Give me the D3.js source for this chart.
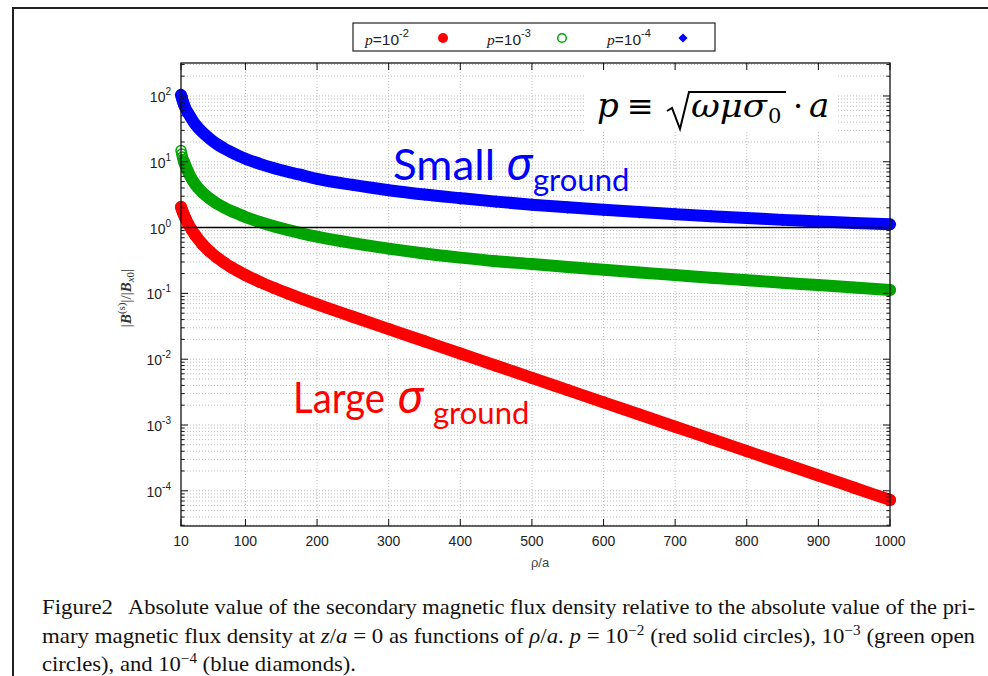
<!DOCTYPE html>
<html>
<head>
<meta charset="utf-8">
<script src="https://cdn.jsdelivr.net/npm/d3@7"></script>
<style>
  body { margin: 0; background: #fff; }
  svg { display: block; }
</style>
</head>
<body>
<svg id="fig" width="988" height="676"></svg>
<script>
// ρ/a sample positions shared by the three series
const rho = [10, 11, 12, 13, 14, 15, 17, 20, 25, 30, 40, 50, 60, 70, 80, 90, 100,
  120, 140, 160, 180, 200, 250, 300, 350, 400, 450, 500, 550, 600, 650, 700,
  750, 800, 850, 900, 950, 1000];

// |B(s)|/|Bx0| for p = 1e-2 (red solid circles)
const redValues = [2.06, 1.911, 1.781, 1.667, 1.565, 1.475, 1.323, 1.142, 0.923, 0.764,
  0.5594, 0.4347, 0.3524, 0.2938, 0.2502, 0.2167, 0.1897,
  0.1495, 0.1208, 0.0990, 0.0819, 0.0683,
  0.0441, 0.02867, 0.01871, 0.01221, 0.00796, 0.00520, 0.00339, 0.00221,
  0.001444, 0.000942, 0.000615, 0.000401, 0.000262, 0.000171, 0.0001115, 0.0000727];

// p = 1e-3 (green open circles)
const greenValues = [14.85, 13.14, 11.83, 10.84, 10.11, 9.42, 8.34, 7.00, 5.48, 4.52,
  3.42, 2.77, 2.32, 2.02, 1.79, 1.61, 1.45,
  1.216, 1.043, 0.913, 0.811, 0.727,
  0.579, 0.478, 0.404, 0.350, 0.3086, 0.280, 0.252, 0.2284,
  0.2078, 0.1897, 0.1732, 0.1587, 0.1454, 0.1337, 0.1225, 0.1126];

// p = 1e-4 (blue diamonds)
const blueValues = [104, 95, 87, 81, 75, 70, 62, 55, 44.5, 37,
  28, 22.5, 18.6, 16, 14, 12.4, 11.1,
  9.3, 8.0, 7.0, 6.2, 5.5,
  4.45, 3.7, 3.18, 2.8, 2.48, 2.23, 2.03, 1.86,
  1.72, 1.6, 1.49, 1.4, 1.31, 1.24, 1.17, 1.12];

const xTicks = [10, 100, 200, 300, 400, 500, 600, 700, 800, 900, 1000];
const yTickExponents = [-4, -3, -2, -1, 0, 1, 2];
const legendExponents = ["-2", "-3", "-4"];

const svg = d3.select("#fig");
const plot = { left: 181, right: 890, top: 63, bottom: 526 };

const x = d3.scaleLinear().domain([10, 1000]).range([plot.left, plot.right]);
const y = d3.scaleLog().domain([2.92e-5, 317]).range([plot.bottom, plot.top]);

const sans = "'Liberation Sans', Arial, sans-serif";
const serif = "'Liberation Serif', 'Times New Roman', serif";

// page frame
svg.append("path").attr("d", "M13,676V8H988")
  .attr("fill", "none").attr("stroke", "#222").attr("stroke-width", 2);

// grid: vertical at major x ticks, horizontal at every log tick
const gridG = svg.append("g").attr("stroke", "#bdbdbd").attr("stroke-width", 1)
  .attr("stroke-dasharray", "1,2");
xTicks.slice(1, -1).forEach(t => {
  gridG.append("line").attr("x1", x(t)).attr("x2", x(t))
    .attr("y1", plot.top).attr("y2", plot.bottom);
});
const [yMin, yMax] = y.domain();
const yLogTicks = [];
for (let e = -5; e <= 2; e++) {
  for (let m = 1; m <= 9; m++) {
    const v = m * Math.pow(10, e);
    if (v >= yMin && v <= yMax) yLogTicks.push({ v, major: m === 1 });
  }
}
yLogTicks.forEach(t => {
  gridG.append("line").attr("x1", plot.left).attr("x2", plot.right)
    .attr("y1", y(t.v)).attr("y2", y(t.v));
});

// white panel behind the definition of p
svg.append("rect").attr("x", 586).attr("y", 72).attr("width", 250).attr("height", 60)
  .attr("fill", "#fff");

// series
const series = [
  { name: "p2", values: redValues, color: "#ff0000", kind: "disc", bandFrom: 10 },
  { name: "p3", values: greenValues, color: "#00a400", kind: "ring", bandFrom: 14 },
  { name: "p4", values: blueValues, color: "#0000ff", kind: "diamond", bandFrom: 10 }
];

const line = d3.line().x(d => x(d.r)).y(d => y(d.v)).curve(d3.curveMonotoneX);
const square = d3.symbol().type(d3.symbolSquare);

series.forEach(s => {
  const pts = rho.map((r, i) => ({ r, v: s.values[i] }));
  const g = svg.append("g");
  g.append("path").datum(pts.filter(d => d.r >= s.bandFrom))
    .attr("d", line).attr("fill", "none").attr("stroke", s.color)
    .attr("stroke-width", 12).attr("stroke-linecap", "round").attr("stroke-linejoin", "round");
  if (s.kind === "disc") {
    g.selectAll("circle").data(pts).join("circle")
      .attr("cx", d => x(d.r)).attr("cy", d => y(d.v)).attr("r", 6).attr("fill", s.color);
  } else if (s.kind === "ring") {
    g.selectAll("circle").data(pts).join("circle")
      .attr("cx", d => x(d.r)).attr("cy", d => y(d.v)).attr("r", 5)
      .attr("fill", "none").attr("stroke", s.color).attr("stroke-width", 1.5);
  } else {
    g.selectAll("path.m").data(pts).join("path").attr("class", "m")
      .attr("transform", d => `translate(${x(d.r)},${y(d.v)}) rotate(45)`)
      .attr("d", square.size(80)).attr("fill", s.color);
  }
});

// reference level |B(s)|/|Bx0| = 1
svg.append("line").attr("x1", plot.left).attr("x2", plot.right)
  .attr("y1", y(1)).attr("y2", y(1)).attr("stroke", "#000").attr("stroke-width", 1.5);

// plot border
svg.append("rect").attr("x", plot.left).attr("y", plot.top)
  .attr("width", plot.right - plot.left).attr("height", plot.bottom - plot.top)
  .attr("fill", "none").attr("stroke", "#111").attr("stroke-width", 1.3);

// ticks (mirrored on all sides, pointing inward)
const tickG = svg.append("g").attr("stroke", "#111").attr("stroke-width", 1);
xTicks.forEach(t => {
  tickG.append("line").attr("x1", x(t)).attr("x2", x(t)).attr("y1", plot.bottom).attr("y2", plot.bottom - 7);
  tickG.append("line").attr("x1", x(t)).attr("x2", x(t)).attr("y1", plot.top).attr("y2", plot.top + 7);
});
yLogTicks.forEach(t => {
  const len = t.major ? 7 : 3.5;
  tickG.append("line").attr("x1", plot.left).attr("x2", plot.left + len).attr("y1", y(t.v)).attr("y2", y(t.v));
  tickG.append("line").attr("x1", plot.right).attr("x2", plot.right - len).attr("y1", y(t.v)).attr("y2", y(t.v));
});

// tick labels
xTicks.forEach(t => {
  svg.append("text").attr("x", x(t)).attr("y", 546).attr("text-anchor", "middle")
    .attr("font-family", sans).attr("font-size", 14).attr("fill", "#222").text(t);
});
yTickExponents.forEach(e => {
  const tx = svg.append("text").attr("x", 171).attr("y", y(Math.pow(10, e)) + 6)
    .attr("text-anchor", "end").attr("font-family", sans).attr("font-size", 14).attr("fill", "#222");
  tx.append("tspan").text("10");
  tx.append("tspan").attr("dy", -7).attr("font-size", 10).text(e < 0 ? "-" + (-e) : String(e));
});

// axis titles
svg.append("text").attr("x", 540).attr("y", 567).attr("text-anchor", "middle")
  .attr("font-family", sans).attr("font-size", 13).attr("fill", "#444").text("ρ/a");

const yl = svg.append("text").attr("transform", "translate(131,298) rotate(-90)")
  .attr("text-anchor", "middle").attr("font-family", serif).attr("font-size", 15).attr("fill", "#333");
yl.append("tspan").text("|");
yl.append("tspan").attr("font-weight", "bold").attr("font-style", "italic").text("B");
yl.append("tspan").attr("dy", -6).attr("font-size", 11).text("(s)");
yl.append("tspan").attr("dy", 6).text("|/|");
yl.append("tspan").attr("font-weight", "bold").attr("font-style", "italic").text("B");
yl.append("tspan").attr("dy", 3).attr("font-size", 11).attr("font-style", "italic").text("x");
yl.append("tspan").attr("font-size", 11).text("0");
yl.append("tspan").attr("dy", -3).text("|");

// legend
svg.append("rect").attr("x", 353).attr("y", 23).attr("width", 362).attr("height", 28)
  .attr("fill", "#fff").attr("stroke", "#222").attr("stroke-width", 1.2);
const legendX = [365, 487, 607];
const markerX = [443, 562, 683];
series.forEach((s, i) => {
  const t = svg.append("text").attr("x", legendX[i]).attr("y", 45)
    .attr("font-family", sans).attr("font-size", 15.5).attr("fill", "#222");
  t.append("tspan").attr("font-family", serif).attr("font-style", "italic").text("p");
  t.append("tspan").text("=10");
  t.append("tspan").attr("dy", -8).attr("font-size", 11).text(legendExponents[i]);
  const my = 38;
  if (s.kind === "disc") {
    svg.append("circle").attr("cx", markerX[i]).attr("cy", my).attr("r", 5).attr("fill", s.color);
  } else if (s.kind === "ring") {
    svg.append("circle").attr("cx", markerX[i]).attr("cy", my).attr("r", 4.3)
      .attr("fill", "none").attr("stroke", s.color).attr("stroke-width", 1.5);
  } else {
    svg.append("path").attr("transform", `translate(${markerX[i]},${my}) rotate(45)`)
      .attr("d", d3.symbol().type(d3.symbolSquare).size(42)).attr("fill", s.color);
  }
});

// definition p ≡ sqrt(ω μ σ0) · a
const mathFont = "'DejaVu Serif', serif";
const fg = svg.append("g").attr("fill", "#000").attr("font-family", mathFont);
fg.append("text").attr("x", 597).attr("y", 117).attr("font-size", 34).attr("font-style", "italic").text("p");
fg.append("text").attr("x", 627).attr("y", 117).attr("font-size", 32).text("≡");
fg.append("path").attr("d", "M667,111 L672,108 L680,129 L689,92 L786,92")
  .attr("fill", "none").attr("stroke", "#000").attr("stroke-width", 2);
fg.append("text").attr("x", 691).attr("y", 117).attr("font-size", 32).attr("font-style", "italic")
  .attr("textLength", 76).attr("lengthAdjust", "spacingAndGlyphs").text("ωμσ");
fg.append("text").attr("x", 768).attr("y", 123).attr("font-size", 21).text("0");
fg.append("text").attr("x", 793).attr("y", 117).attr("font-size", 32).text("·");
fg.append("text").attr("x", 809).attr("y", 117).attr("font-size", 34).attr("font-style", "italic").text("a");

// annotations
function regimeLabel(word, wordWidth, color, xw, yb, xs, xg) {
  svg.append("text").attr("x", xw).attr("y", yb).attr("font-family", "Lato, 'Open Sans', sans-serif")
    .attr("font-size", 42).attr("fill", color)
    .attr("textLength", wordWidth).attr("lengthAdjust", "spacingAndGlyphs").text(word);
  svg.append("text").attr("x", xs).attr("y", yb).attr("font-family", "'Noto Sans', sans-serif")
    .attr("font-style", "italic").attr("font-size", 46).attr("fill", color).text("σ");
  svg.append("text").attr("x", xg).attr("y", yb + 11).attr("font-family", "Lato, 'Open Sans', sans-serif")
    .attr("font-size", 31).attr("fill", color).text("ground");
}
regimeLabel("Small", 102, "#0000ff", 393, 180, 506, 533);
regimeLabel("Large", 92, "#ff0000", 293, 413, 397, 433);

// caption
const cap = svg.append("g").attr("font-family", serif).attr("font-size", 21).attr("fill", "#111");
cap.append("text").attr("x", 42).attr("y", 614).attr("textLength", 71)
  .attr("lengthAdjust", "spacingAndGlyphs").text("Figure2");
cap.append("text").attr("x", 128).attr("y", 614).attr("textLength", 847)
  .attr("lengthAdjust", "spacingAndGlyphs")
  .text("Absolute value of the secondary magnetic flux density relative to the absolute value of the pri-");
const l2 = cap.append("text").attr("x", 42).attr("y", 643).attr("textLength", 933)
  .attr("lengthAdjust", "spacingAndGlyphs");
l2.append("tspan").text("mary magnetic flux density at ");
l2.append("tspan").attr("font-style", "italic").text("z");
l2.append("tspan").text("/");
l2.append("tspan").attr("font-style", "italic").text("a");
l2.append("tspan").text(" = 0 as functions of ");
l2.append("tspan").attr("font-style", "italic").text("ρ");
l2.append("tspan").text("/");
l2.append("tspan").attr("font-style", "italic").text("a");
l2.append("tspan").text(".  ");
l2.append("tspan").attr("font-style", "italic").text("p");
l2.append("tspan").text(" = 10");
l2.append("tspan").attr("dy", -8).attr("font-size", 14).text("−2");
l2.append("tspan").attr("dy", 8).text(" (red solid circles), 10");
l2.append("tspan").attr("dy", -8).attr("font-size", 14).text("−3");
l2.append("tspan").attr("dy", 8).text(" (green open");
const l3 = cap.append("text").attr("x", 42).attr("y", 671).attr("textLength", 314)
  .attr("lengthAdjust", "spacingAndGlyphs");
l3.append("tspan").text("circles), and 10");
l3.append("tspan").attr("dy", -8).attr("font-size", 14).text("−4");
l3.append("tspan").attr("dy", 8).text(" (blue diamonds).");
</script>
</body>
</html>
